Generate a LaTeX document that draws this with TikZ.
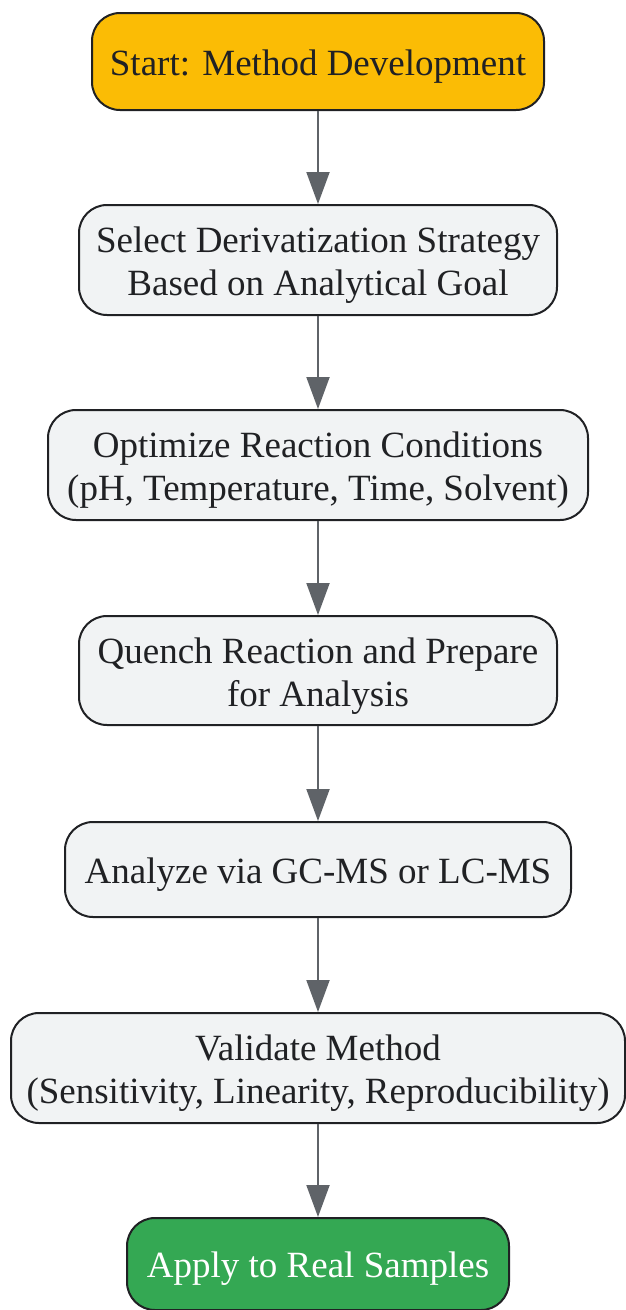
\documentclass[tikz,border=0pt]{standalone}
\usepackage{fontspec}
\setmainfont{Liberation Serif}
\usepackage{tikz}
\usetikzlibrary{arrows.meta}
\definecolor{nenhop}{HTML}{F1F3F4}
\definecolor{vienhop}{HTML}{202124}
\definecolor{batdau}{HTML}{FBBC05}
\definecolor{ketthuc}{HTML}{34A853}
\definecolor{muiten}{HTML}{5F6368}
\tikzset{
	hop/.style={draw=vienhop,line width=2pt,fill=nenhop,rounded corners=28pt,
		align=center,text=vienhop,inner sep=0pt,
		font=\fontsize{37pt}{43pt}\selectfont,
		execute at begin node={\rule{0pt}{35pt}}},
	haidong/.style={execute at begin node={\rule{0pt}{79pt}}},
	noi/.style={draw=muiten,line width=2pt,-{Triangle[length=32pt,width=23pt]}}
}
\begin{document}
\begin{tikzpicture}[x=1pt,y=-1pt]
			\useasboundingbox (0,0) rectangle (625,1310);
			\node[hop,fill=batdau,minimum width=452pt,minimum height=97pt] (batdau) at (318,61.5) {Start: Method Development};
			\node[hop,haidong,minimum width=478pt,minimum height=110pt] (chon) at (318,260) {Select Derivatization Strategy\\Based on Analytical Goal};
			\node[hop,haidong,minimum width=540pt,minimum height=110pt] (toiuu) at (318,465) {Optimize Reaction Conditions\\(pH, Temperature, Time, Solvent)};
			\node[hop,haidong,minimum width=478pt,minimum height=109pt] (dung) at (318,670.5) {Quench Reaction and Prepare\\for Analysis};
			\node[hop,minimum width=506pt,minimum height=95pt] (phantich) at (318,869.5) {Analyze via GC-MS or LC-MS};
			\node[hop,haidong,minimum width=614pt,minimum height=110pt] (kiemdinh) at (318,1068) {Validate Method\\(Sensitivity, Linearity, Reproducibility)};
			\node[hop,fill=ketthuc,text=white,minimum width=382pt,minimum height=92pt] (apdung) at (318,1264) {Apply to Real Samples};
			\draw[noi] (batdau) -- (chon);
			\draw[noi] (chon) -- (toiuu);
			\draw[noi] (toiuu) -- (dung);
			\draw[noi] (dung) -- (phantich);
			\draw[noi] (phantich) -- (kiemdinh);
			\draw[noi] (kiemdinh) -- (apdung);
		\end{tikzpicture}
\end{document}
